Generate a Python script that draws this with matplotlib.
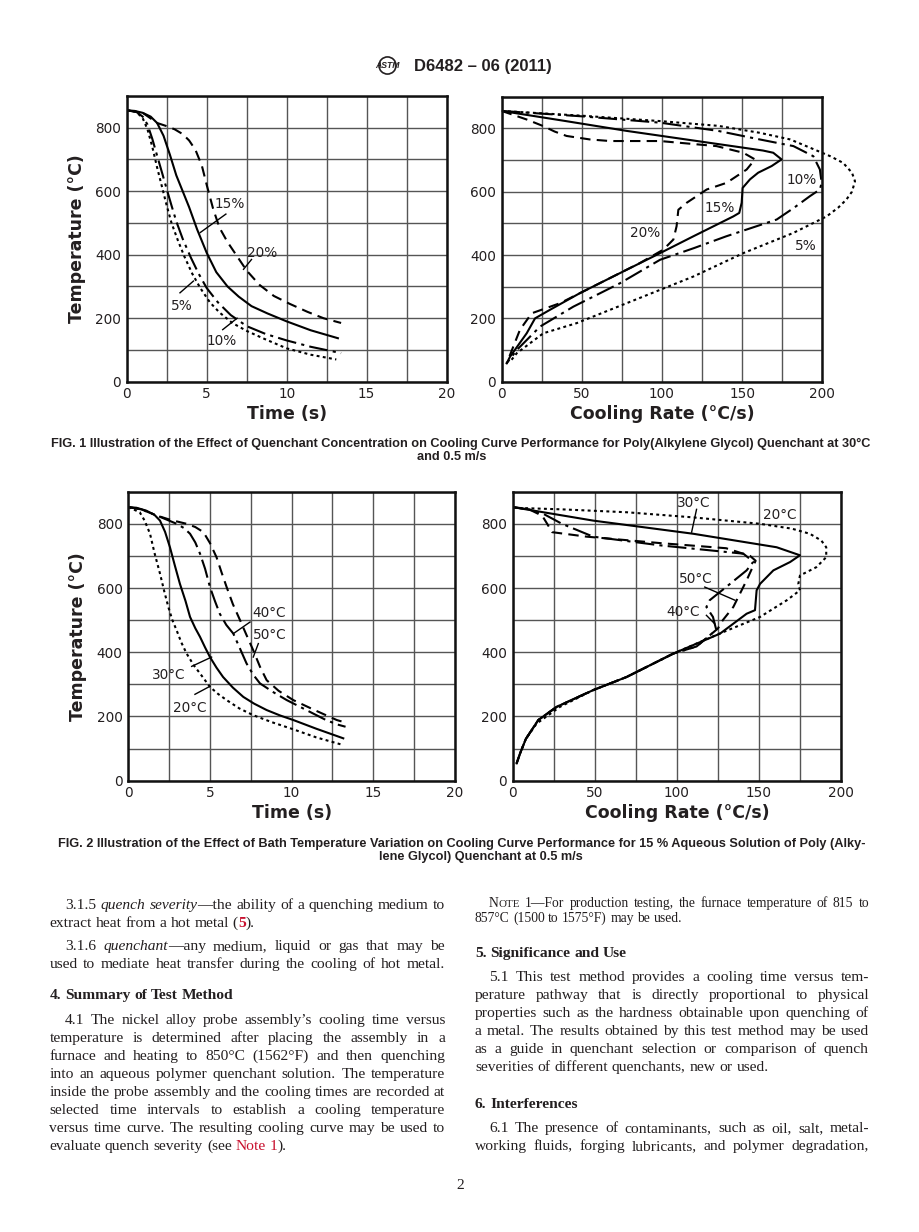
import re
import matplotlib
matplotlib.use("Agg")
import matplotlib.pyplot as plt
from matplotlib.ticker import MultipleLocator
from matplotlib.patches import Circle

# ---------------- data ----------------
# FIG. 1 left: time (s) vs temperature (C), by concentration
t_15 = [0, 0.5, 1, 1.5, 1.9, 2.3, 2.7, 3.1, 3.5, 3.9, 4.4, 5.0, 5.6, 6.3, 7.0, 7.8, 8.8, 10, 11.5, 13.2]
T_15 = [855, 853, 847, 835, 815, 775, 715, 650, 600, 550, 480, 406, 345, 300, 268, 238, 215, 190, 162, 137]
t_20 = [0, 1, 1.9, 2.5, 3.0, 3.5, 3.9, 4.3, 4.7, 5.0, 5.4, 5.8, 6.3, 6.9, 7.5, 8.3, 9.2, 10.2, 11.3, 12.3, 13.4]
T_20 = [855, 847, 815, 805, 795, 780, 760, 730, 680, 620, 545, 485, 440, 395, 350, 305, 270, 245, 220, 200, 185]
t_10 = [0, 0.6, 1.0, 1.3, 1.6, 1.9, 2.2, 2.5, 2.8, 3.1, 3.5, 4.0, 4.5, 5.0, 5.7, 6.5, 7.5, 8.7, 10, 11.5, 13.4]
T_10 = [855, 850, 835, 810, 765, 712, 660, 607, 555, 505, 450, 392, 340, 295, 250, 210, 175, 150, 130, 110, 90]
t_5 = [0, 0.6, 1.0, 1.3, 1.6, 1.9, 2.2, 2.5, 2.8, 3.2, 3.6, 4.1, 4.6, 5.2, 5.8, 6.6, 7.5, 8.6, 10, 11.5, 13.1]
T_5 = [855, 850, 830, 795, 740, 675, 615, 555, 500, 445, 395, 340, 295, 250, 218, 185, 160, 135, 105, 85, 70]

# FIG. 1 right: cooling rate (C/s) vs temperature (C)
r_15 = [0, 40, 78, 115, 150.7, 163, 169.4, 174.6, 168.4, 160, 154.9, 150.3, 149.7, 148.2, 144.5, 119.5, 98.8, 73.8, 48.9, 30.1, 20.8, 15.6, 5.2, 3.1]
rT_15 = [855, 823, 792, 765, 739, 730, 723, 702, 681, 660, 639, 612, 565, 533, 522, 459, 406, 343, 280, 227, 200, 153, 79, 58]
r_20 = [0, 15.6, 26, 33, 40.5, 55, 67.6, 98.8, 134, 150.7, 158, 152.8, 140.3, 127.9, 115.4, 110.2, 109.1, 107.1, 100.8, 86.3, 57.2, 36.4, 18.7, 11.4, 3.1]
rT_20 = [855, 828, 807, 790, 776, 765, 760, 760, 744, 723, 702, 670, 628, 607, 565, 543, 491, 449, 417, 375, 301, 248, 216, 164, 58]
r_10 = [0, 50, 98.8, 135, 161, 182, 194.4, 198.5, 199.6, 198.5, 192.3, 182, 171.5, 140, 120, 98.8, 73.8, 44.7, 23.9, 9.4, 3.1]
rT_10 = [855, 838, 818, 792, 765, 744, 712, 670, 628, 607, 586, 548, 512, 459, 422, 385, 311, 237, 174, 100, 58]
r_5 = [0, 50, 98.8, 135, 161, 180, 192.3, 205, 213, 218.5, 220.4, 218.5, 215, 210, 202.7, 182, 150.7, 119.5, 78, 46.8, 26, 9.4, 5.2]
rT_5 = [855, 840, 823, 808, 786, 765, 739, 712, 691, 660, 633, 600, 575, 550, 522, 470, 406, 332, 248, 185, 153, 90, 63]

# FIG. 2 left: time vs temperature, by bath temperature
t_b20 = [0, 0.7, 1.0, 1.33, 1.6, 1.94, 2.2, 2.45, 2.7, 2.96, 3.25, 3.57, 4.0, 4.39, 5.0, 5.5, 6.02, 6.8, 7.65, 8.8, 10.1, 11.5, 13.16]
T_b20 = [852, 836, 810, 769, 710, 645, 590, 541, 500, 468, 430, 396, 360, 334, 292, 270, 251, 225, 204, 182, 160, 135, 111]
t_b30 = [0, 0.5, 1.1, 1.6, 1.94, 2.25, 2.55, 2.85, 3.16, 3.5, 3.78, 4.1, 4.39, 4.7, 5.0, 5.4, 5.8, 6.4, 7.04, 7.7, 8.47, 9.3, 10.1, 11.5, 13.16]
T_b30 = [852, 850, 841, 828, 810, 775, 727, 670, 613, 560, 510, 475, 448, 415, 385, 352, 323, 290, 261, 240, 220, 203, 189, 162, 132]
t_b40 = [0, 0.8, 1.73, 2.4, 2.96, 3.4, 3.78, 4.1, 4.39, 4.7, 5.0, 5.3, 5.6, 6.0, 6.43, 6.85, 7.24, 7.65, 8.06, 8.9, 9.7, 10.9, 12.1, 12.8, 13.3]
T_b40 = [852, 845, 826, 812, 800, 787, 769, 742, 707, 660, 603, 560, 520, 485, 458, 410, 365, 330, 303, 275, 251, 220, 189, 175, 168]
t_b50 = [0, 0.8, 1.73, 2.6, 3.57, 4.1, 4.6, 5.0, 5.4, 5.7, 6.02, 6.4, 6.84, 7.25, 7.65, 8.06, 8.47, 9.2, 10.1, 11.4, 12.76, 13.16]
T_b50 = [852, 845, 826, 812, 800, 790, 774, 740, 696, 650, 603, 550, 500, 452, 406, 355, 313, 280, 251, 220, 189, 183]

# FIG. 2 right: cooling rate vs temperature
r_b20 = [0, 30, 69.4, 110, 150.7, 170, 181, 188, 191, 191, 185, 175, 174, 175, 167, 150.7, 126, 97.9, 69.4, 49, 28.8, 14.6, 8, 4.5, 2.4]
rT_b20 = [850, 845, 836, 820, 800, 785, 769, 748, 727, 696, 665, 639, 613, 593, 562, 510, 458, 396, 323, 282, 230, 178, 130, 85, 54]
r_b30 = [0, 49, 110, 160.8, 175, 169, 158.8, 150.7, 148.6, 147.6, 142.5, 126.3, 97.9, 69.4, 49, 26.8, 15.6, 8, 4.5, 2.4]
rT_b30 = [852, 810, 769, 727, 702, 681, 655, 613, 593, 531, 520, 458, 396, 323, 282, 230, 189, 130, 85, 54]
r_b40 = [0, 10, 18.7, 30, 49, 89.7, 140.5, 146.6, 142.5, 130, 120, 118, 122, 124, 112, 97.9, 69.4, 49, 26.8, 15.6, 8, 4.5, 2.4]
rT_b40 = [852, 845, 831, 800, 760, 733, 707, 682, 655, 603, 562, 541, 510, 470, 418, 396, 323, 282, 230, 189, 130, 85, 54]
r_b50 = [0, 10, 18, 21, 24, 45, 89.7, 130, 144.6, 148, 146.6, 142.5, 134.4, 128, 125, 112, 97.9, 69.4, 49, 26.8, 15.6, 8, 4.5, 2.4]
rT_b50 = [852, 845, 825, 800, 774, 760, 740, 724, 700, 685, 670, 624, 541, 500, 474, 418, 396, 323, 282, 230, 189, 130, 85, 54]

# ---------------- page text ----------------
header = "D6482 \u2013 06 (2011)"
cap1 = ["FIG. 1 Illustration of the Effect of Quenchant Concentration on Cooling Curve Performance for Poly(Alkylene Glycol) Quenchant at 30\u00b0C",
        "and 0.5 m/s"]
cap2 = ["FIG. 2 Illustration of the Effect of Bath Temperature Variation on Cooling Curve Performance for 15 % Aqueous Solution of Poly (Alky-",
        "lene Glycol) Quenchant at 0.5 m/s"]

left_col = [
    # (kind, text, justify)
    ("ind", "3.1.5 {i|quench} {i|severity}\u2014the ability of a quenching medium to", True),
    ("", "extract heat from a hot metal ({rb|5}).", False),
    ("ind", "3.1.6 {i|quenchant}\u2014any medium, liquid or gas that may be", True),
    ("", "used to mediate heat transfer during the cooling of hot metal.", True),
    ("head", "4. Summary of Test Method", False),
    ("ind", "4.1 The nickel alloy probe assembly\u2019s cooling time versus", True),
    ("", "temperature is determined after placing the assembly in a", True),
    ("", "furnace and heating to 850\u00b0C (1562\u00b0F) and then quenching", True),
    ("", "into an aqueous polymer quenchant solution. The temperature", True),
    ("", "inside the probe assembly and the cooling times are recorded at", True),
    ("", "selected time intervals to establish a cooling temperature", True),
    ("", "versus time curve. The resulting cooling curve may be used to", True),
    ("", "evaluate quench severity (see {r|Note} {r|1}).", False),
]
left_y = [909, 927, 950, 968, 999, 1024, 1042, 1060, 1078, 1096, 1114, 1132, 1150]

right_col = [
    ("note", "N{s|OTE} 1\u2014For production testing, the furnace temperature of 815 to", True),
    ("small", "857\u00b0C (1500 to 1575\u00b0F) may be used.", False),
    ("head", "5. Significance and Use", False),
    ("ind", "5.1 This test method provides a cooling time versus tem-", True),
    ("", "perature pathway that is directly proportional to physical", True),
    ("", "properties such as the hardness obtainable upon quenching of", True),
    ("", "a metal. The results obtained by this test method may be used", True),
    ("", "as a guide in quenchant selection or comparison of quench", True),
    ("", "severities of different quenchants, new or used.", False),
    ("head", "6. Interferences", False),
    ("ind", "6.1 The presence of contaminants, such as oil, salt, metal-", True),
    ("", "working fluids, forging lubricants, and polymer degradation,", True),
]
right_y = [907, 922, 957, 981, 999, 1017, 1035, 1053, 1071, 1108, 1132, 1150]

W, H = 920, 1232
ink = "#231f20"
red = "#c8102e"
fig = plt.figure(figsize=(9.2, 12.32), dpi=100)
rend = fig.canvas.get_renderer()


def measure(txt, kw):
    t = fig.text(0, 0, txt, **kw)
    w = t.get_window_extent(renderer=rend).width
    t.remove()
    return w


def px_axes(x0, y0, x1, y1):
    return fig.add_axes([x0 / W, 1 - y1 / H, (x1 - x0) / W, (y1 - y0) / H])


def style_chart(ax, xmax, xmajor, xminor, ylabel=None, xlabel=""):
    ax.set_xlim(0, xmax)
    ax.set_ylim(0, 900)
    ax.xaxis.set_major_locator(MultipleLocator(xmajor))
    ax.xaxis.set_minor_locator(MultipleLocator(xminor))
    ax.yaxis.set_major_locator(MultipleLocator(200))
    ax.yaxis.set_minor_locator(MultipleLocator(100))
    ax.grid(True, which="both", color="#555555", lw=1.0)
    ax.set_axisbelow(True)
    ax.tick_params(which="both", length=0, labelsize=9.8, colors=ink, pad=4)
    for s in ax.spines.values():
        s.set_linewidth(1.8)
        s.set_color("#111111")
    ax.set_xlabel(xlabel, fontsize=12.5, fontweight="bold", color=ink, labelpad=3)
    if ylabel:
        ax.set_ylabel(ylabel, fontsize=12.5, fontweight="bold", color=ink, labelpad=7)


plt.rcParams["font.family"] = ["DejaVu Sans"]
solid = "-"
dashed = (0, (5, 3))
dashdot = (0, (9, 2.5, 1.5, 2.5))
dotted = (0, (1.4, 1.6))
lw = 1.5
lbl = dict(fontsize=9.8, color=ink)

# FIG. 1 left
ax = px_axes(126.7, 96, 446.7, 381.7)
style_chart(ax, 20, 5, 2.5, "Temperature (\u00b0C)", "Time (s)")
ax.plot(t_15, T_15, color="k", lw=lw, ls=solid)
ax.plot(t_20, T_20, color="k", lw=lw, ls=dashed)
ax.plot(t_10, T_10, color="k", lw=lw, ls=dashdot)
ax.plot(t_5, T_5, color="k", lw=lw, ls=dotted)
ax.text(6.45, 560, "15%", ha="center", va="center", **lbl)
ax.plot([4.6, 6.2], [470, 528], color="k", lw=1)
ax.text(8.45, 406, "20%", ha="center", va="center", **lbl)
ax.plot([7.3, 7.8], [354, 385], color="k", lw=1)
ax.text(3.45, 237, "5%", ha="center", va="center", **lbl)
ax.plot([3.33, 4.17], [280, 317], color="k", lw=1)
ax.text(5.95, 127, "10%", ha="center", va="center", **lbl)
ax.plot([6.0, 6.9], [164, 200], color="k", lw=1)

# FIG. 1 right
ax = px_axes(501.7, 96.7, 822.3, 381.7)
style_chart(ax, 200, 50, 25, None, "Cooling Rate (\u00b0C/s)")
ax.plot(r_15, rT_15, color="k", lw=lw, ls=solid)
ax.plot(r_20, rT_20, color="k", lw=lw, ls=dashed)
ax.plot(r_10, rT_10, color="k", lw=lw, ls=dashdot)
ax.plot(r_5, rT_5, color="k", lw=lw, ls=dotted, clip_on=False)
ax.text(187, 636, "10%", ha="center", va="center", **lbl)
ax.text(136, 549, "15%", ha="center", va="center", **lbl)
ax.text(89.4, 470, "20%", ha="center", va="center", **lbl)
ax.text(190, 430, "5%", ha="center", va="center", **lbl)

# FIG. 2 left
ax = px_axes(128.3, 491.7, 455, 780.7)
style_chart(ax, 20, 5, 2.5, "Temperature (\u00b0C)", "Time (s)")
ax.plot(t_b20, T_b20, color="k", lw=lw, ls=dotted)
ax.plot(t_b30, T_b30, color="k", lw=lw, ls=solid)
ax.plot(t_b40, T_b40, color="k", lw=lw, ls=dashdot)
ax.plot(t_b50, T_b50, color="k", lw=lw, ls=dashed)
ax.text(8.6, 522, "40\u00b0C", ha="center", va="center", **lbl)
ax.plot([6.43, 7.45], [458, 494], color="k", lw=1)
ax.text(8.65, 453, "50\u00b0C", ha="center", va="center", **lbl)
ax.plot([7.65, 7.96], [385, 427], color="k", lw=1)
ax.text(2.45, 328, "30\u00b0C", ha="center", va="center", **lbl)
ax.plot([3.88, 5.1], [356, 385], color="k", lw=1)
ax.text(3.78, 225, "20\u00b0C", ha="center", va="center", **lbl)
ax.plot([4.08, 5.0], [269, 294], color="k", lw=1)

# FIG. 2 right
ax = px_axes(512.7, 491.7, 841, 780.7)
style_chart(ax, 200, 50, 25, None, "Cooling Rate (\u00b0C/s)")
ax.plot(r_b20, rT_b20, color="k", lw=lw, ls=dotted)
ax.plot(r_b30, rT_b30, color="k", lw=lw, ls=solid)
ax.plot(r_b40, rT_b40, color="k", lw=lw, ls=dashdot)
ax.plot(r_b50, rT_b50, color="k", lw=lw, ls=dashed)
ax.text(110, 864, "30\u00b0C", ha="center", va="center", **lbl)
ax.plot([112, 109], [845, 774], color="k", lw=1)
ax.text(162.4, 826, "20\u00b0C", ha="center", va="center", **lbl)
ax.text(111.7, 629, "50\u00b0C", ha="center", va="center", **lbl)
ax.plot([117, 135.4], [603, 562], color="k", lw=1)
ax.text(104, 525, "40\u00b0C", ha="center", va="center", **lbl)
ax.plot([118, 123], [515, 489], color="k", lw=1)

# ---------------- header ----------------
fig.text(482.5 / W, 1 - 67 / H, header, ha="center", va="center",
         family="Liberation Sans", fontweight="bold", fontsize=12, color=ink)
lax = px_axes(371, 51, 404, 80)
lax.set_xlim(-1.2, 1.2)
lax.set_ylim(-1.05, 1.05)
lax.axis("off")
lax.add_patch(Circle((0, 0), 0.62, fill=False, lw=1.2, ec=ink))
lax.text(0, 0, "ASTM", ha="center", va="center", fontsize=6.2, fontweight="bold",
         fontstyle="italic", color=ink, family="Liberation Sans")

# ---------------- captions ----------------
capbase = dict(family="Liberation Sans", fontweight="bold", fontsize=10)
capsize = 10 * 818 / measure(cap1[0], capbase)
capkw = dict(family="Liberation Sans", fontweight="bold", fontsize=capsize, color=ink,
             ha="center", va="center")
fig.text(461 / W, 1 - 443.5 / H, cap1[0], **capkw)
fig.text(452 / W, 1 - 457 / H, cap1[1], **capkw)
fig.text(462 / W, 1 - 843.5 / H, cap2[0], **capkw)
fig.text(481 / W, 1 - 857 / H, cap2[1], **capkw)

# ---------------- body text ----------------
# font sizes fitted so that full lines need only ordinary word spacing
bsize = 10 * 393 / measure("inside the probe assembly and the cooling times are recorded at",
                           dict(family="Liberation Serif", fontsize=10))
ssize = 10 * 207 / measure("857\u00b0C (1500 to 1575\u00b0F) may be used.",
                           dict(family="Liberation Serif", fontsize=10))
body = dict(family="Liberation Serif", fontsize=bsize, color=ink)
small = dict(family="Liberation Serif", fontsize=ssize, color=ink)
styles = {
    "n": {},
    "i": {"fontstyle": "italic"},
    "b": {"fontweight": "bold"},
    "rb": {"fontweight": "bold", "color": red},
    "r": {"color": red},
    "s": {"fontsize": ssize * 0.8},
}
tok = re.compile(r"\{(\w+)\|([^}]*)\}")


def parse_word(w):
    parts, pos = [], 0
    for m in tok.finditer(w):
        if m.start() > pos:
            parts.append((w[pos:m.start()], "n"))
        parts.append((m.group(2), m.group(1)))
        pos = m.end()
    if pos < len(w):
        parts.append((w[pos:], "n"))
    return parts


def draw_line(text, x0, x1, y, base, justify):
    words = [parse_word(w) for w in text.split(" ")]
    widths = []
    for wd in words:
        widths.append([measure(p, {**base, **styles[s]}) for p, s in wd])
    total = sum(sum(w) for w in widths)
    space = measure("a a", base) - 2 * measure("a", base)
    if justify and len(words) > 1:
        space = (x1 - x0 - total) / (len(words) - 1)
    x = x0
    for wd, ws in zip(words, widths):
        for (p, s), w in zip(wd, ws):
            fig.text(x / W, 1 - y / H, p, ha="left", va="baseline", **{**base, **styles[s]})
            x += w
        x += space


def draw_column(lines, ys, xl, xr, indent):
    for (kind, text, just), y in zip(lines, ys):
        if kind == "head":
            draw_line(text, xl, xr, y, {**body, "fontweight": "bold"}, False)
        elif kind == "note":
            draw_line(text, xl + indent, xr, y, small, just)
        elif kind == "small":
            draw_line(text, xl, xr, y, small, just)
        elif kind == "ind":
            draw_line(text, xl + indent, xr, y, body, just)
        else:
            draw_line(text, xl, xr, y, body, just)


draw_column(left_col, left_y, 49.5, 445, 15.5)
draw_column(right_col, right_y, 475, 869, 14)

fig.text(460 / W, 1 - 1189 / H, "2", ha="center", va="baseline", **body)

fig.savefig("out.png", dpi=100)
